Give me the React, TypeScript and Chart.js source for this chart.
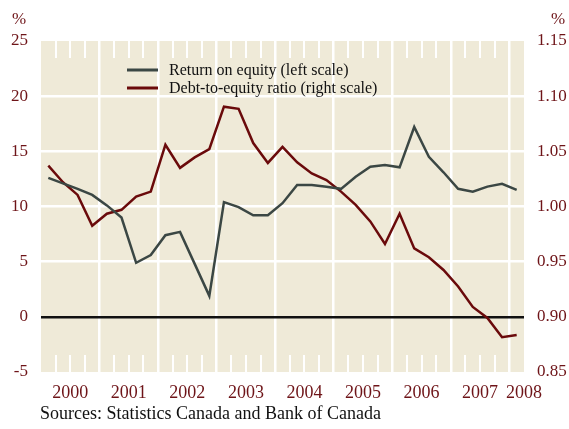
import React, { useEffect, useRef } from "react";
import { Chart, registerables } from "chart.js";

Chart.register(...registerables);

// ---- Data (quarterly, 2000Q1 .. 2008Q1) ----
const years = ["2000", "2001", "2002", "2003", "2004", "2005", "2006", "2007", "2008"];
const quarterCount = 33;

const returnOnEquity = [
  12.6, 12.1, 11.6, 11.05, 10.1, 9.0, 4.9, 5.6,
  7.4, 7.7, 4.8, 1.9, 10.4, 9.95, 9.2, 9.2,
  10.3, 11.95, 11.95, 11.8, 11.6, 12.7, 13.6, 13.75,
  13.55, 17.2, 14.5, 13.1, 11.6, 11.35, 11.8, 12.05,
  11.5,
];

const debtToEquity = [
  1.037, 1.022, 1.0105, 0.9825, 0.9935, 0.997, 1.009, 1.0135,
  1.056, 1.035, 1.0445, 1.052, 1.0905, 1.0885, 1.0575, 1.0395,
  1.054, 1.04, 1.03, 1.024, 1.0135, 1.0015, 0.9865, 0.966,
  0.9935, 0.962, 0.954, 0.9425, 0.9275, 0.909, 0.899, 0.8815,
  0.8835,
];

const leftTicks = [-5, 0, 5, 10, 15, 20, 25];
const rightTicks = [0.85, 0.9, 0.95, 1.0, 1.05, 1.1, 1.15];

const seriesLabels = ["Return on equity (left scale)", "Debt-to-equity ratio (right scale)"];
const sourceText = "Sources: Statistics Canada and Bank of Canada";

// ---- Styles ----
const BG = "#EFEAD8";
const GREEN = "#3B4744";
const RED = "#6A0A0B";
const TICK_COLOR = "#6E1418";
const FONT = "'Liberation Serif', 'Times New Roman', serif";

const decorPlugin = {
  id: "decor",
  beforeDraw(chart: any) {
    const { ctx, chartArea } = chart;
    ctx.save();
    ctx.fillStyle = BG;
    ctx.fillRect(chartArea.left, chartArea.top, chartArea.right - chartArea.left, chartArea.bottom - chartArea.top);
    ctx.restore();
  },
  beforeDatasetsDraw(chart: any) {
    const { ctx, chartArea } = chart;
    const xs = chart.scales.x;
    ctx.save();
    ctx.strokeStyle = "#FFFFFF";
    ctx.lineWidth = 2;
    for (let i = 1; i < quarterCount; i++) {
      if (i % 4 === 0) continue;
      const px = Math.round(xs.getPixelForValue(i));
      ctx.beginPath();
      ctx.moveTo(px, chartArea.top);
      ctx.lineTo(px, chartArea.top + 17);
      ctx.moveTo(px, chartArea.bottom);
      ctx.lineTo(px, chartArea.bottom - 17);
      ctx.stroke();
    }
    ctx.restore();
  },
  afterDraw(chart: any) {
    const { ctx } = chart;
    ctx.save();
    // % labels
    ctx.fillStyle = TICK_COLOR;
    ctx.font = `17px ${FONT}`;
    ctx.textBaseline = "middle";
    ctx.textAlign = "left";
    ctx.fillText("%", 12, 20);
    ctx.fillText("%", 551, 20);
    // legend
    const colors = [GREEN, RED];
    const ys = [70, 88];
    ctx.font = `16px ${FONT}`;
    ctx.fillStyle = "#111111";
    for (let i = 0; i < 2; i++) {
      ctx.strokeStyle = colors[i];
      ctx.lineWidth = 3;
      ctx.beginPath();
      ctx.moveTo(127, ys[i]);
      ctx.lineTo(158, ys[i]);
      ctx.stroke();
      ctx.fillText(seriesLabels[i], 169, ys[i] + 1);
    }
    // sources
    ctx.font = `18px ${FONT}`;
    ctx.fillText(sourceText, 40, 414);
    ctx.restore();
  },
};

export default function App() {
  const canvasRef = useRef<HTMLCanvasElement | null>(null);

  useEffect(() => {
    const canvas = canvasRef.current;
    if (!canvas) return;
    const chart = new Chart(canvas, {
      type: "line",
      data: {
        datasets: [
          {
            label: seriesLabels[0],
            data: returnOnEquity.map((v, i) => ({ x: i + 0.5, y: v })),
            borderColor: GREEN,
            borderWidth: 2.5,
            pointRadius: 0,
            tension: 0,
            yAxisID: "y",
          },
          {
            label: seriesLabels[1],
            data: debtToEquity.map((v, i) => ({ x: i + 0.5, y: v })),
            borderColor: RED,
            borderWidth: 2.5,
            pointRadius: 0,
            tension: 0,
            yAxisID: "y1",
          },
        ],
      },
      options: {
        responsive: false,
        animation: false,
        layout: { padding: { top: 41, left: 0, right: 0, bottom: 0 } },
        plugins: {
          legend: { display: false },
          tooltip: { enabled: false },
        },
        scales: {
          x: {
            type: "linear",
            min: 0,
            max: quarterCount,
            afterBuildTicks: (scale: any) => {
              scale.ticks = Array.from({ length: quarterCount + 1 }, (_, i) => ({ value: i }));
            },
            afterFit: (scale: any) => {
              scale.height = 57;
            },
            ticks: {
              autoSkip: false,
              maxRotation: 0,
              minRotation: 0,
              padding: 10,
              color: TICK_COLOR,
              font: { family: FONT, size: 18 },
              callback: (value: any) => {
                const v = Number(value);
                if (v === quarterCount) return years[8];
                if (v % 4 === 2) return years[(v - 2) / 4];
                return "";
              },
            },
            grid: {
              drawTicks: false,
              lineWidth: 2.5,
              color: (ctx: any) => {
                const v = ctx.tick ? ctx.tick.value : -1;
                return v % 4 === 0 && v > 0 && v < quarterCount ? "#FFFFFF" : "rgba(0,0,0,0)";
              },
            },
            border: { display: false },
          },
          y: {
            type: "linear",
            position: "left",
            min: -5,
            max: 25,
            afterBuildTicks: (scale: any) => {
              scale.ticks = leftTicks.map((v) => ({ value: v }));
            },
            afterFit: (scale: any) => {
              scale.width = 41;
            },
            ticks: {
              padding: 13,
              color: TICK_COLOR,
              font: { family: FONT, size: 17 },
              callback: (value: any) => String(value),
            },
            grid: {
              drawTicks: false,
              lineWidth: 2.5,
              color: (ctx: any) => {
                const v = ctx.tick ? ctx.tick.value : NaN;
                if (v === 0) return "#111111";
                if (v === 25 || v === -5) return "rgba(0,0,0,0)";
                return "#FFFFFF";
              },
            },
            border: { display: false },
          },
          y1: {
            type: "linear",
            position: "right",
            min: 0.85,
            max: 1.15,
            afterBuildTicks: (scale: any) => {
              scale.ticks = rightTicks.map((v) => ({ value: v }));
            },
            afterFit: (scale: any) => {
              scale.width = 45;
            },
            ticks: {
              padding: 13,
              color: TICK_COLOR,
              font: { family: FONT, size: 17 },
              callback: (value: any) => Number(value).toFixed(2),
            },
            grid: { display: false, drawTicks: false },
            border: { display: false },
          },
        },
      },
      plugins: [decorPlugin],
    });
    return () => chart.destroy();
  }, []);

  return (
    <div style={{ position: "absolute", left: 0, top: 0, width: 569, height: 429, background: "#FFFFFF" }}>
      <canvas ref={canvasRef} width={569} height={429} style={{ display: "block" }} />
    </div>
  );
}
